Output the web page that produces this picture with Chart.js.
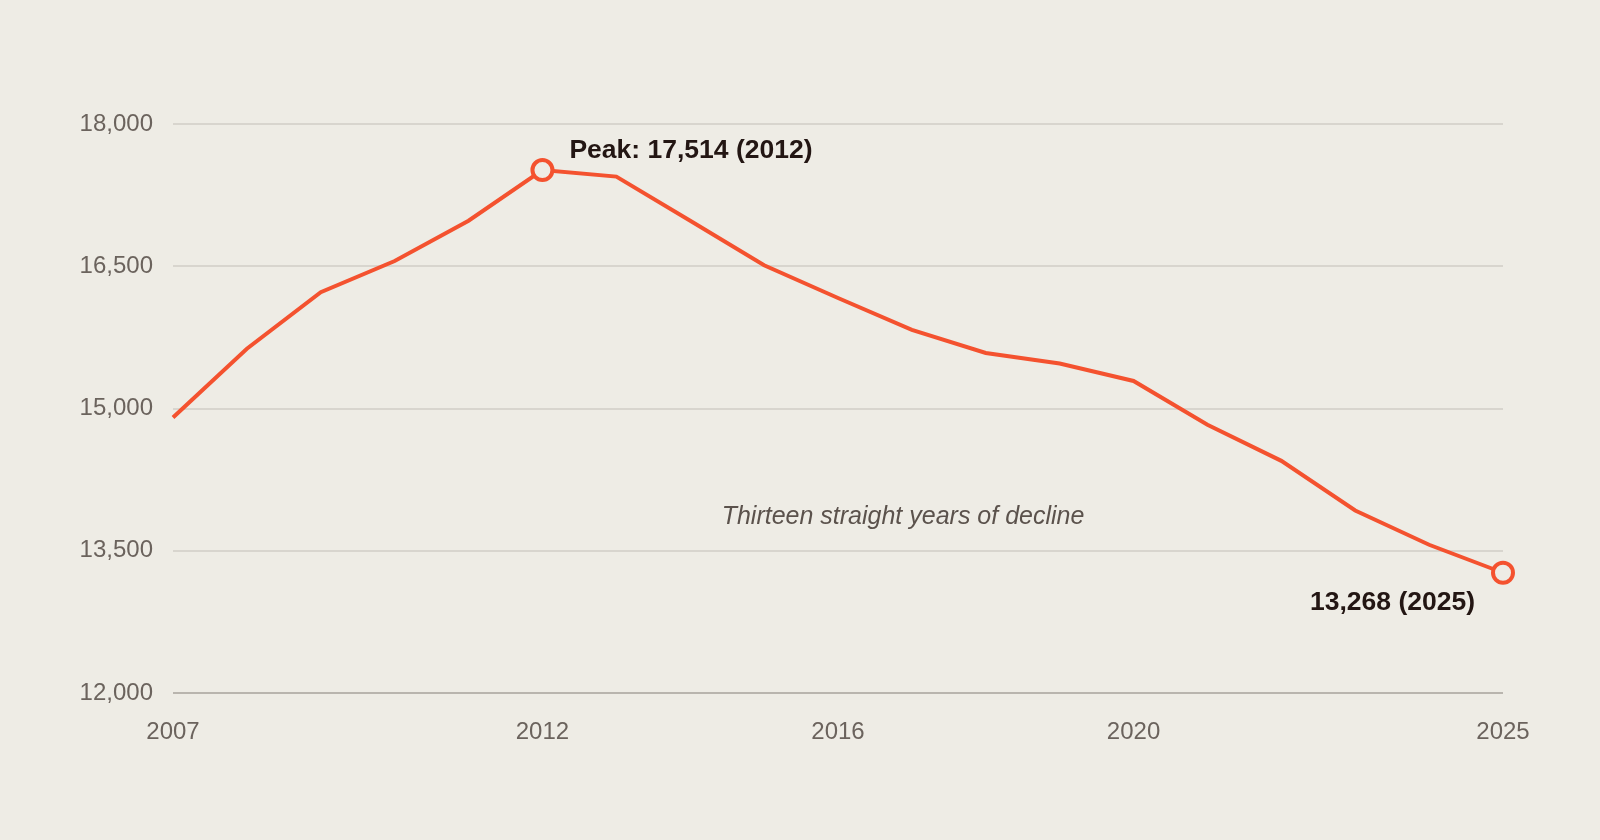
<!DOCTYPE html>
<html>
<head>
<meta charset="utf-8">
<script src="https://cdn.jsdelivr.net/npm/chart.js@4.4.1/dist/chart.umd.min.js"></script>
<style>
  html, body { margin: 0; padding: 0; background: #eeece5; }
  #wrap { width: 1600px; height: 840px; }
</style>
</head>
<body>
<div id="wrap"><canvas id="myChart" width="1600" height="840"></canvas></div>
<script>
// DATA
const years = ["2007", "2008", "2009", "2010", "2011", "2012", "2013", "2014", "2015", "2016",
  "2017", "2018", "2019", "2020", "2021", "2022", "2023", "2024", "2025"];
const values = [14905, 15630, 16227, 16555, 16980, 17514, 17445, 16980, 16510, 16165,
  15830, 15585, 15475, 15290, 14828, 14448, 13925, 13563, 13268];
const shownYears = ["2007", "2012", "2016", "2020", "2025"];
const yTicks = [12000, 13500, 15000, 16500, 18000];
const peakLabel = "Peak: 17,514 (2012)";
const endLabel = "13,268 (2025)";
const noteLabel = "Thirteen straight years of decline";

const bg = "#eeece5";
const lineColor = "#f4522f";
const font = "'Liberation Sans', Arial, sans-serif";

// which points get a ring marker
const peakIdx = values.indexOf(Math.max(...values));
const endIdx = values.length - 1;

const bgPlugin = {
  id: "bg",
  beforeDraw(chart) {
    const c = chart.ctx;
    c.save();
    c.fillStyle = bg;
    c.fillRect(0, 0, chart.width, chart.height);
    c.restore();
  },
};

const labelsPlugin = {
  id: "labels",
  afterDatasetsDraw(chart) {
    const c = chart.ctx;
    const meta = chart.getDatasetMeta(0);
    const x = chart.scales.x;
    const y = chart.scales.y;
    const peak = meta.data[peakIdx];
    const end = meta.data[endIdx];
    c.save();
    c.fillStyle = "#231613";
    c.font = "bold 26.5px " + font;
    c.textBaseline = "middle";
    c.textAlign = "left";
    c.fillText(peakLabel, peak.x + 27, peak.y - 19);
    c.textAlign = "right";
    c.fillText(endLabel, end.x - 28, end.y + 30);

    c.fillStyle = "#5b524c";
    c.font = "italic 25px " + font;
    c.textAlign = "center";
    c.fillText(noteLabel, x.getPixelForValue(9.88), y.getPixelForValue(13860));
    c.restore();
  },
};

const ctx = document.getElementById("myChart");
const chart = new Chart(ctx, {
  type: "line",
  data: {
    labels: years,
    datasets: [
      {
        data: values,
        borderColor: lineColor,
        borderWidth: 4,
        tension: 0,
        pointRadius: values.map((v, i) => (i == peakIdx || i == endIdx ? 10 : 0)),
        pointBorderWidth: 4,
        pointBackgroundColor: bg,
        pointBorderColor: lineColor,
        clip: false,
      },
    ],
  },
  options: {
    responsive: false,
    animation: false,
    devicePixelRatio: 1,
    layout: { padding: { top: 124, right: 97, left: 0, bottom: 0 } },
    plugins: {
      legend: { display: false },
      tooltip: { enabled: false },
    },
    scales: {
      x: {
        grid: { display: false, drawTicks: false },
        border: { display: false },
        ticks: {
          autoSkip: false,
          maxRotation: 0,
          padding: 25,
          color: "#6b635d",
          font: { family: font, size: 24 },
          callback: function (v, i) {
            return shownYears.includes(years[i]) ? years[i] : "";
          },
        },
        afterFit(scale) {
          scale.height = 147;
        },
      },
      y: {
        min: 12000,
        max: 18000,
        afterBuildTicks(scale) {
          scale.ticks = yTicks.map((v) => ({ value: v }));
        },
        grid: {
          drawTicks: false,
          lineWidth: 2,
          color: (c) => (c.tick && c.tick.value == 12000 ? "#b9b5ae" : "#d8d5ce"),
        },
        border: { display: false },
        ticks: {
          padding: 20,
          color: "#6b635d",
          font: { family: font, size: 24 },
          callback: (v) => v.toLocaleString("en-US"),
        },
        afterFit(scale) {
          scale.width = 173;
        },
      },
    },
  },
  plugins: [bgPlugin, labelsPlugin],
});
</script>
</body>
</html>
